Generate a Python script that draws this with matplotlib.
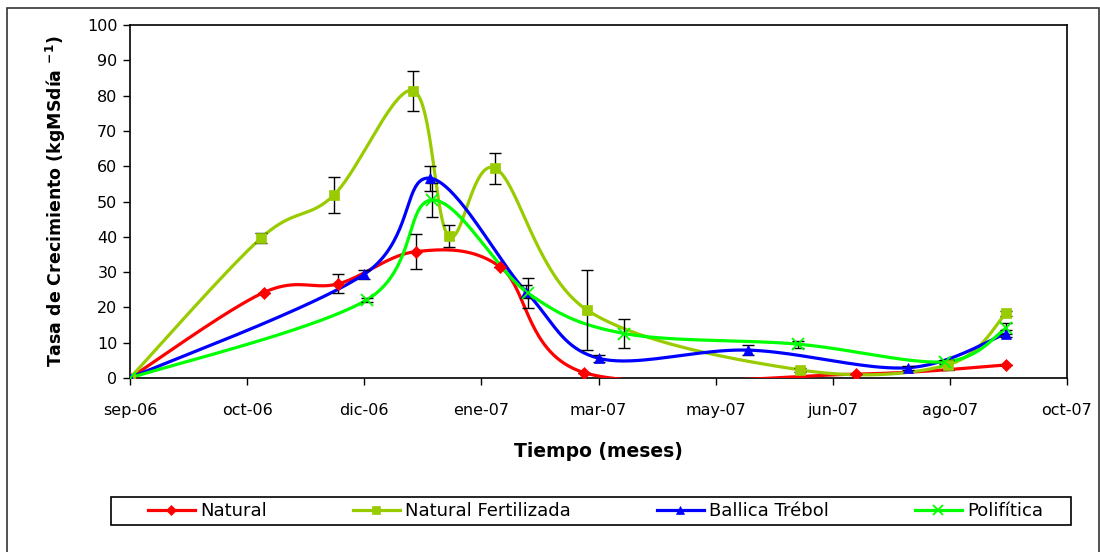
import numpy as np
import matplotlib
matplotlib.use("Agg")
import matplotlib.pyplot as plt
import matplotlib.dates as mdates
from matplotlib.lines import Line2D
from matplotlib.patches import Rectangle

plt.rcParams['font.family'] = ['DejaVu Sans']

# fechas de muestreo y tasas de crecimiento (kg MS/dia) por pradera
fechas_nat = ["2006-09-01", "2006-10-28", "2006-11-29", "2007-01-01", "2007-02-06",
              "2007-03-14", "2007-07-08", "2007-09-10"]
natural = [0, 24.2, 26.7, 35.8, 31.5, 1.5, 1.1, 3.7]
err_nat = [0, 0, 2.7, 5.0, 0, 0, 0, 0]

fechas_fert = ["2006-09-01", "2006-10-27", "2006-11-27", "2006-12-31", "2007-01-15",
               "2007-02-04", "2007-03-15", "2007-06-14", "2007-08-16", "2007-09-10"]
fertilizada = [0, 39.7, 51.8, 81.4, 40.2, 59.4, 19.3, 2.3, 3.7, 18.3]
err_fert = [0, 1.5, 5.0, 5.7, 3.1, 4.4, 11.3, 0.5, 1.5, 0.8]

fechas_bal = ["2006-09-01", "2006-12-10", "2007-01-07", "2007-02-17", "2007-03-20",
              "2007-05-23", "2007-07-30", "2007-09-10"]
ballica = [0, 29.4, 56.6, 24.5, 5.6, 7.9, 2.9, 12.6]
err_bal = [0, 1.3, 3.5, 1.8, 1.0, 1.4, 0.5, 1.0]

fechas_pol = ["2006-09-01", "2006-12-11", "2007-01-08", "2007-02-18", "2007-03-31",
              "2007-06-13", "2007-08-15", "2007-09-10"]
polifitica = [0, 22.1, 50.4, 24.0, 12.6, 9.6, 4.6, 14.1]
err_pol = [0, 0.7, 4.8, 4.2, 4.2, 1.0, 0.5, 1.5]

fechas_ticks = ["2006-09-01", "2006-10-21", "2006-12-10", "2007-01-29", "2007-03-20",
                "2007-05-09", "2007-06-28", "2007-08-17", "2007-10-06"]
etiquetas = ["sep-06", "oct-06", "dic-06", "ene-07", "mar-07",
             "may-07", "jun-07", "ago-07", "oct-07"]


def suavizar(x, y, n=40):
    # curva bezier tipo excel que pasa por todos los puntos
    p = np.column_stack([x, y]).astype(float)
    out = []
    t = np.linspace(0, 1, n, endpoint=False)[:, None]
    for i in range(len(p) - 1):
        p0, p3 = p[i], p[i + 1]
        prev = p[i - 1] if i > 0 else p[i]
        nxt = p[i + 2] if i + 2 < len(p) else p[i + 1]
        c1 = p0 + (p3 - prev) / 6
        c2 = p3 - (nxt - p0) / 6
        seg = ((1 - t) ** 3) * p0 + 3 * ((1 - t) ** 2) * t * c1 + 3 * (1 - t) * t ** 2 * c2 + t ** 3 * p3
        out.append(seg)
    out.append(p[-1:])
    out = np.vstack(out)
    return out[:, 0], out[:, 1]


series = [
    ("Natural", fechas_nat, natural, err_nat, "#FF0000", "D", 6),
    ("Natural Fertilizada", fechas_fert, fertilizada, err_fert, "#99CC00", "s", 6.5),
    ("Ballica Trébol", fechas_bal, ballica, err_bal, "#0000FF", "^", 7.5),
    ("Polifítica", fechas_pol, polifitica, err_pol, "#00FF00", "x", 8.5),
]

fig = plt.figure(figsize=(11, 5.52), dpi=100)
ax = fig.add_axes([130 / 1100, 1 - 378 / 552, (1067 - 130) / 1100, (378 - 25) / 552])

handles = []
for nombre, fechas, vals, errs, color, marca, ms in series:
    x = mdates.datestr2num(fechas)
    xs, ys = suavizar(x, vals)
    ax.plot(xs, ys, color=color, lw=2.3, zorder=3, solid_capstyle='round')
    ax.errorbar(x, vals, yerr=errs, fmt='none', ecolor='black', elinewidth=1,
                capsize=4, capthick=1, zorder=4)
    ax.plot(x, vals, linestyle='none', marker=marca, color=color, markersize=ms,
            markeredgewidth=1.3 if marca == 'x' else 0.5, zorder=5)
    handles.append(Line2D([], [], color=color, lw=2.3, marker=marca, markersize=ms * 0.85,
                          markeredgewidth=1.3 if marca == 'x' else 0.5))

xt = mdates.datestr2num(fechas_ticks)
ax.set_xlim(xt[0], xt[-1])
ax.set_ylim(0, 100)
ax.set_xticks(xt)
ax.set_xticklabels(etiquetas)
ax.set_yticks(np.arange(0, 101, 10))
ax.tick_params(direction='out', length=5, width=1, labelsize=11.5, pad=4)
ax.tick_params(axis='x', pad=13)
for s in ax.spines.values():
    s.set_linewidth(1.2)

ax.set_ylabel("Tasa de Crecimiento (kgMSdía $^{\\mathbf{-1}}$)", fontsize=12.5,
              fontweight='bold', labelpad=14)
ax.set_xlabel("Tiempo (meses)", fontsize=13.5, fontweight='bold', labelpad=17)

# recuadro exterior y recuadro de la leyenda
fig.patches.append(Rectangle((7 / 1100, -0.01), 1092 / 1100, 1 - 8 / 552 + 0.01,
                             transform=fig.transFigure, fill=False, lw=1.2, ec='#333333'))
fig.patches.append(Rectangle((111 / 1100, 1 - 525 / 552), 960 / 1100, 28 / 552,
                             transform=fig.transFigure, fill=False, lw=1.2, ec='black'))
fig.legend(handles, [s[0] for s in series], loc='center', ncol=4, mode='expand',
           bbox_to_anchor=(148 / 1100, 1 - 525 / 552, 895 / 1100, 28 / 552),
           frameon=False, fontsize=13, handlelength=2.6, handletextpad=0.3,
           borderpad=0, borderaxespad=0, numpoints=1)

fig.savefig("out.png", dpi=100)
